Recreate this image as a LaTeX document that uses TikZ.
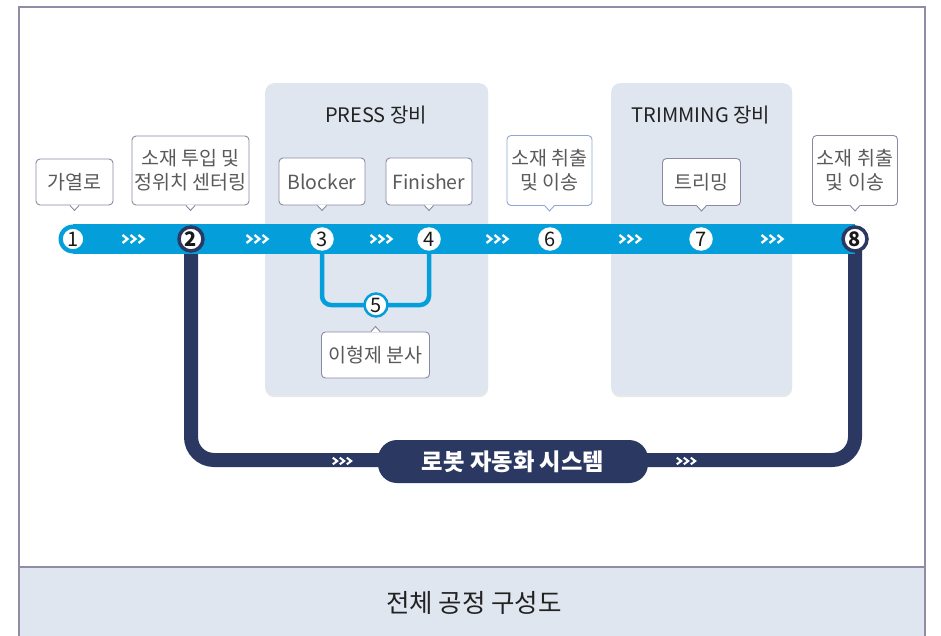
\documentclass[tikz,border=0pt]{standalone}
\usepackage{fontspec}
\setmainfont{Noto Sans CJK KR}
\usetikzlibrary{shadows}
\definecolor{frameC}{HTML}{8F8CA8}
\definecolor{bandC}{HTML}{DFE6EF}
\definecolor{panelC}{HTML}{DFE6F0}
\definecolor{barC}{HTML}{049FDB}
\definecolor{navyC}{HTML}{2B3962}
\definecolor{txtC}{HTML}{5A5A5A}
\definecolor{titleC}{HTML}{222222}
\definecolor{calloutC}{HTML}{8C89A4}
\definecolor{calloutB}{HTML}{8FA8D3}
\newcommand\ptrdown[2][calloutC]{%
  \fill[white] ([xshift=-4.6pt,yshift=0.7pt]#2.south) -- ++(4.6,5.7) -- ++(4.6,-5.7) -- cycle;
  \draw[#1, line width=0.9pt] ([xshift=-4.6pt]#2.south) -- ++(4.6,5) -- ++(4.6,-5);}
\newcommand\ptrup[2][calloutC]{%
  \fill[white] ([xshift=-4.6pt,yshift=-0.7pt]#2.north) -- ++(4.6,-5.7) -- ++(4.6,5.7) -- cycle;
  \draw[#1, line width=0.9pt] ([xshift=-4.6pt]#2.north) -- ++(4.6,-5) -- ++(4.6,5);}
\begin{document}
\begin{tikzpicture}[x=1pt,y=-1pt,
  panel/.style={fill=panelC, rounded corners=9pt, inner sep=0pt,
    drop shadow={shadow xshift=0pt, shadow yshift=-2pt, opacity=0.18}},
  callout/.style={draw=calloutC, fill=white, rounded corners=4pt, line width=0.9pt,
    inner sep=0pt, align=center, text=txtC, font=\fontsize{19.5}{24}\selectfont},
  numc/.style={circle, fill=white, minimum size=23.5pt, inner sep=0pt,
    font=\fontsize{20}{20}\selectfont, text=black!90},
  numblue/.style={numc, draw=barC, line width=2.5pt, minimum size=23pt},
  numnavy/.style={numc, draw=navyC, line width=3.5pt, minimum size=24pt, font=\bfseries\fontsize{20}{20}\selectfont},
  title/.style={text=titleC, font=\fontsize{20}{20}\selectfont},
  chev/.pic={\foreach \i in {-8,0,8} \draw[white, line width=2.3pt] (\i-2.5,-4) -- (\i+2.5,0) -- (\i-2.5,4);},
  chevs/.pic={\foreach \i in {-7,0,7} \draw[white, line width=2pt] (\i-2.2,-3.3) -- (\i+2.2,0) -- (\i-2.2,3.3);}
]
\useasboundingbox (0,0) rectangle (941,636);
% frame and caption band
\fill[bandC] (19,567) rectangle (925,636);
\draw[frameC, line width=1.2pt] (19,567) -- (925,567);
\draw[frameC, line width=1.6pt] (19,636) -- (19,7) -- (925,7) -- (925,636);
\node[text=titleC, font=\fontsize{25.5}{25.5}\selectfont] (caption) at (474,603) {전체 공정 구성도};
% panels
\node[panel, minimum width=223pt, minimum height=312pt, anchor=north west] (press) at (265,83) {};
\node[panel, minimum width=181pt, minimum height=312pt, anchor=north west] (trim) at (611,83) {};
\node[title] (presst) at (376,115) {PRESS 장비};
\node[title] (trimt) at (701,115) {TRIMMING 장비};
% circle positions
\coordinate (p1) at (73,239);
\coordinate (p2) at (191,239);
\coordinate (p3) at (322,239);
\coordinate (p4) at (429,239);
\coordinate (p5) at (376,305);
\coordinate (p6) at (550,239);
\coordinate (p7) at (701,239);
\coordinate (p8) at (855,239);
% navy loop
\draw[navyC, line width=14pt, rounded corners=23pt] (p2) -- (191,460) -- (855,460) -- (p8);
% blue bar
\fill[barC] (p1) circle[radius=14.5];
\fill[barC] (73,224.5) rectangle (855,253.5);
% blue loop
\draw[barC, line width=4.5pt, rounded corners=9pt] (p3) -- (322,305) -- (429,305) -- (p4);
% chevrons
\foreach \x in {133,257,381,497,630,772} \pic at (\x,239) {chev};
\foreach \x in {342,686} \pic at (\x,461) {chevs};
% robot pill
\node[fill=navyC, rounded corners=19pt, minimum width=270pt, minimum height=43pt, inner sep=0pt,
  text=white, font=\bfseries\fontsize{23.3}{23.3}\selectfont] (robot) at (513,461.5) {로봇 자동화 시스템};
% number circles
\node[numblue] (n1) at (p1) {1};
\node[numnavy] (n2) at (p2) {2};
\node[numc] (n3) at (p3) {3};
\node[numc] (n4) at (p4) {4};
\node[numblue] (n5) at (p5) {5};
\node[numc] (n6) at (p6) {6};
\node[numc] (n7) at (p7) {7};
\node[numnavy] (n8) at (p8) {8};
% callouts
\node[callout, minimum width=77pt, minimum height=46pt] (b1) at (74.5,182) {가열로};
\ptrdown{b1}
\node[callout, minimum width=117pt, minimum height=69pt] (b2) at (190.5,170.5) {소재 투입 및\\정위치 센터링};
\ptrdown{b2}
\node[callout, minimum width=86pt, minimum height=47pt] (b3) at (322,181.5) {Blocker};
\ptrdown{b3}
\node[callout, minimum width=86pt, minimum height=47pt] (b4) at (429,181.5) {Finisher};
\ptrdown{b4}
\node[callout, draw=calloutB, minimum width=85pt, minimum height=70pt] (b6) at (549.5,170.5) {소재 취출\\ 및 이송};
\ptrdown[calloutB]{b6}
\node[callout, minimum width=78pt, minimum height=47pt] (b7) at (701.5,182) {트리밍};
\ptrdown{b7}
\node[callout, minimum width=85pt, minimum height=70pt] (b8) at (855,170.5) {소재 취출\\ 및 이송};
\ptrdown{b8}
\node[callout, minimum width=108pt, minimum height=46pt] (b5) at (375.5,355) {이형제 분사};
\ptrup{b5}
\end{tikzpicture}
\end{document}
